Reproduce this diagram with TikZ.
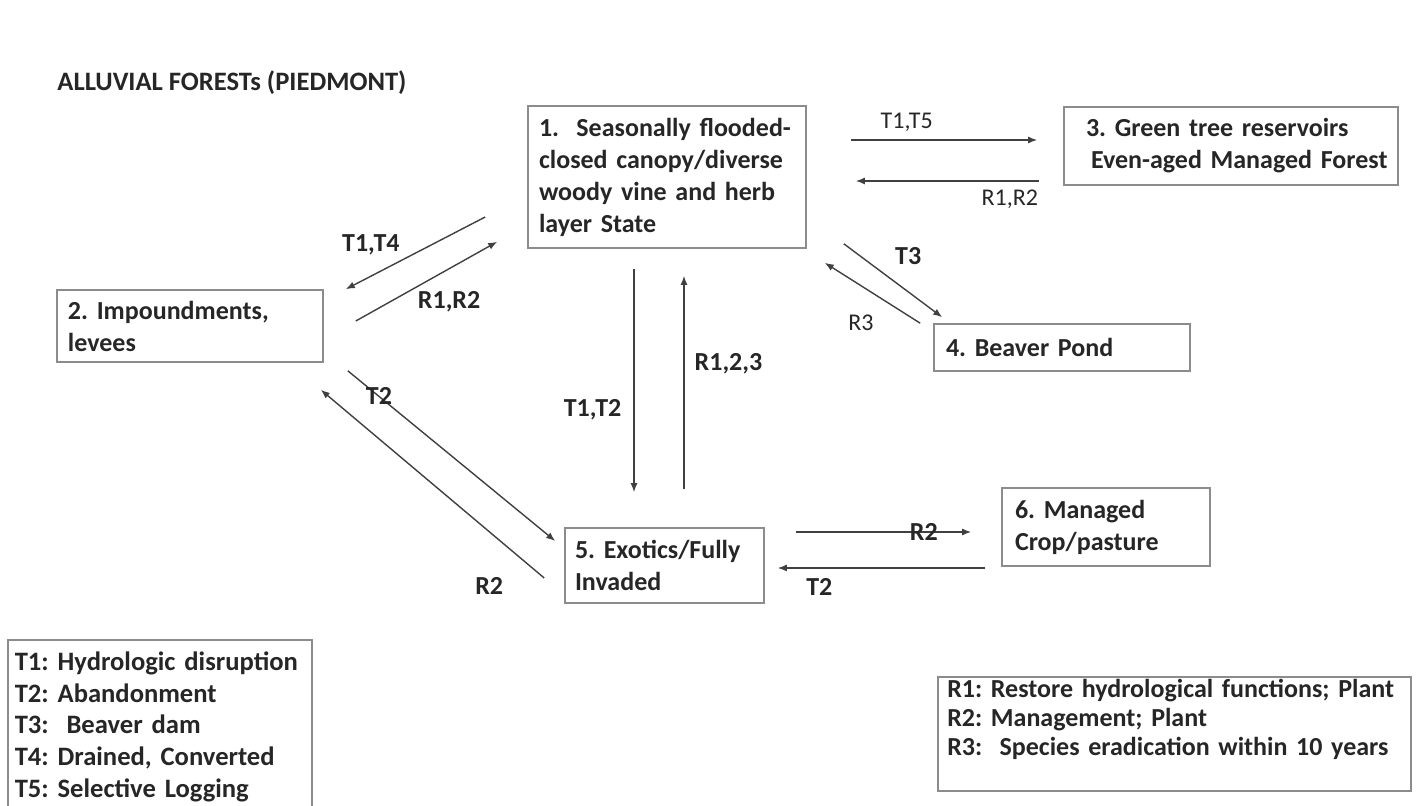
\documentclass[tikz,border=0pt]{standalone}
\usepackage{fontspec}
\setmainfont{Carlito}
\usepackage{tikz}
\usetikzlibrary{arrows.meta,calc}
\frenchspacing

\begin{document}
\begin{tikzpicture}[x=0.5pt, y=-0.5pt,
    box/.style={draw=gray!90, line width=0.8pt, rectangle, align=left, inner ysep=1pt, text=black!85, font=\bfseries\fontsize{13}{16}\selectfont},
    arr/.style={draw=black!75, line width=0.7pt, -{Latex[length=4.5pt,width=3.5pt]}},
    lbl/.style={inner sep=1pt, text=black!85, font=\bfseries\fontsize{13}{15}\selectfont},
    lblthin/.style={lbl, font=\fontsize{12}{14}\selectfont}]
  \useasboundingbox (0,0) rectangle (1420,806);
  \node[anchor=west, inner sep=0pt, text=black!85, font=\bfseries\fontsize{13.3}{15}\selectfont] (title) at (57,83) {ALLUVIAL FORESTs (PIEDMONT)};

  % states
  \node[box, minimum height=71pt, text width=128pt, inner xsep=5.5pt] (s1) at (667,177) {1.\ \ Seasonally flooded-\\closed canopy/diverse\\woody vine and herb\\layer State};
  \node[box, minimum height=36pt, text width=122pt, inner xsep=5.5pt] (s2) at (190,326) {2. Impoundments,\\levees};
  \node[box, minimum height=39pt, text width=157pt, inner xsep=5pt] (s3) at (1231,146) {\hspace*{6pt}3. Green tree reservoirs\\\hspace*{8.5pt}Even-aged Managed Forest};
  \node[box, minimum height=23.5pt, text width=116pt, inner xsep=6pt] (s4) at (1062,347.5) {4. Beaver Pond};
  \node[box, minimum height=37.5pt, text width=89.5pt, inner xsep=5pt] (s5) at (664.5,565.5) {5. Exotics/Fully\\Invaded};
  \node[box, minimum height=39pt, text width=91pt, inner xsep=6.5pt] (s6) at (1106,527) {6. Managed\\Crop/pasture};

  % legends
  \node[box, anchor=north west, minimum height=87pt, text width=145pt, inner xsep=3.5pt, font=\bfseries\fontsize{13.3}{15.8}\selectfont] (legT) at (7,639) {T1: Hydrologic disruption\\T2: Abandonment\\T3:\ \ Beaver dam\\T4: Drained, Converted\\T5: Selective Logging};
  \node[box, anchor=north west, minimum height=57pt, text width=227pt, inner xsep=4.75pt, font=\bfseries\fontsize{13}{14.5}\selectfont] (legR) at (937,676) {R1: Restore hydrological functions; Plant\\R2: Management; Plant\\R3:\ \ Species eradication within 10 years\\[2pt]\mbox{}};

  % transitions
  \path ($(s1.east)+(44,-37)$) edge[arr] node[lblthin, pos=0.3, above=3pt] {T1,T5} ($(s3.west)+(-26,-6)$);
  \path ($(s3.west)+(-24,35)$) edge[arr] node[lblthin, pos=0.16, below=3pt] {R1,R2} ($(s1.east)+(49,4)$);
  \path ($(s1.west)+(-42,40)$) edge[arr] node[lbl, pos=0.82, above=9pt] {T1,T4} ($(s2.north east)+(22,0)$);
  \path ($(s2.east)+(32,-5)$) edge[arr] node[lbl, pos=0.66, below=10pt] {R1,R2} ($(s1.south west)+(-30,-7)$);
  \path ($(s1.south east)+(37,-5)$) edge[arr] node[lbl, pos=0.17, right=16pt] {T3} ($(s4.north west)+(9,-6)$);
  \path ($(s4.north west)+(-13,0)$) edge[arr] node[lblthin, pos=0.62, below=13pt] {R3} ($(s1.south east)+(18,14)$);
  \path ($(s1.south)+(-33,20)$) edge[arr] node[lbl, pos=0.63, left=5pt] {T1,T2} ($(s5.north)+(-30.5,-35)$);
  \path ($(s5.north)+(19.5,-38)$) edge[arr] node[lbl, pos=0.586, right=4pt] {R1,2,3} ($(s1.south)+(17,27)$);
  \path ($(s2.south east)+(24,8)$) edge[arr] node[lbl, pos=0.15] {T2} ($(s5.west)+(-9,-24.5)$);
  \path ($(s5.west)+(-20,12.5)$) edge[arr] node[lbl, pos=0.1, below left=8pt] {R2} ($(s2.south east)+(-3,27)$);
  \path ($(s5.east)+(31,-33.5)$) edge[arr] node[lbl, pos=0.73] {R2} ($(s6.west)+(-30,5)$);
  \path ($(s6.west)+(-16,41)$) edge[arr] node[lbl, pos=0.8, below=4pt] {T2} ($(s5.east)+(13,2.5)$);
\end{tikzpicture}
\end{document}
